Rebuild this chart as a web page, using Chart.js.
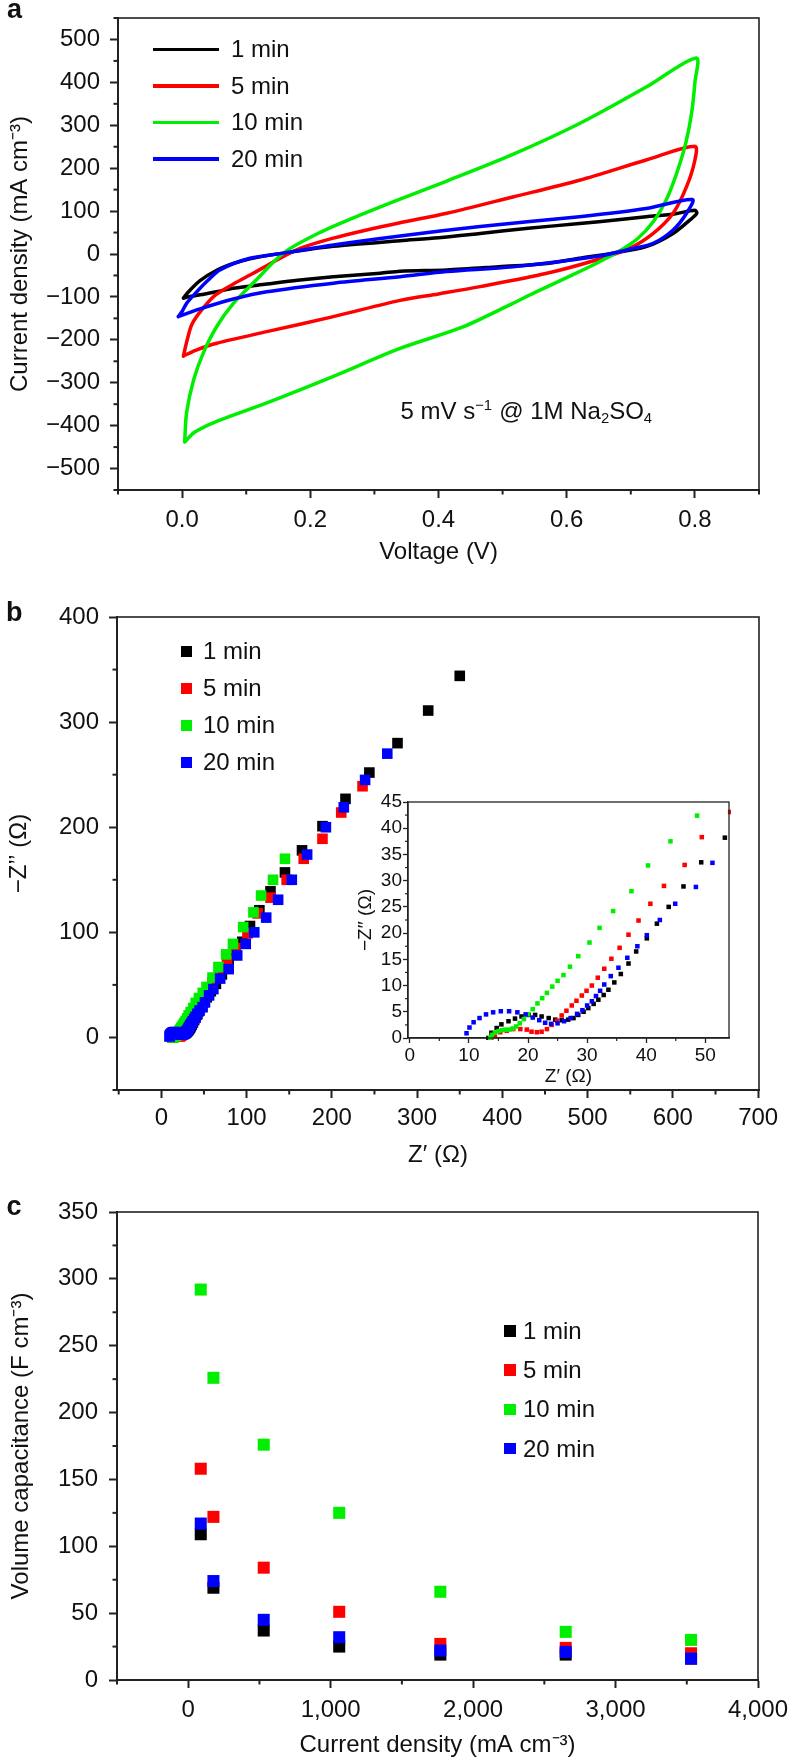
<!DOCTYPE html>
<html>
<head>
<meta charset="utf-8">
<title>CV, EIS and capacitance</title>
<script src="https://cdn.jsdelivr.net/npm/chart.js@4.4.1/dist/chart.umd.min.js"></script>
<style>
  html, body { margin:0; padding:0; background:#ffffff; }
  body { position:relative; width:788px; height:1761px; overflow:hidden;
         font-family:'Liberation Sans', Arial, Helvetica, sans-serif; color:#111; }
  .pane { position:absolute; }
  .pane canvas { display:block; }
  .t { position:absolute; line-height:0; white-space:nowrap; font-size:24px; }
  .letter { font-weight:bold; font-size:27px; }
  .sup, .sub { font-size:0.62em; position:relative; }
  .sup { top:-0.6em; }
  .sub { top:0.28em; }
  .sw { position:absolute; }
</style>
</head>
<body>
<div class="pane" style="left:0;top:0"><canvas id="chartA" width="788" height="580"></canvas></div>
<div class="pane" style="left:0;top:580px"><canvas id="chartB" width="788" height="600"></canvas></div>
<div class="pane" style="left:330px;top:790px"><canvas id="chartInset" width="420" height="300"></canvas></div>
<div class="pane" style="left:0;top:1180px"><canvas id="chartC" width="788" height="581"></canvas></div>
<div id="overlay"></div>
<script>
// ---------------- DATA ----------------
const seriesNames = ['1 min', '5 min', '10 min', '20 min'];

// Panel a: cyclic voltammetry loops (voltage V, current density mA cm-3)
const cvV_1min = [0.002,0.010,0.028,0.054,0.080,0.106,0.158,0.236,0.340,0.400,0.465,0.540,0.620,0.680,0.724,0.770,0.800,0.803,0.792,0.766,0.724,0.672,0.620,0.569,0.490,0.413,0.340,0.309,0.236,0.180,0.132,0.080,0.054,0.028,0.010,0.002];
const cvI_1min = [-103,-88,-62,-38,-22,-11,2,18,31,38,48,60,71,80,87,94,102,95,79,48,17,2,-10,-22,-30,-37,-40,-45,-53,-61,-70,-80,-88,-95,-100,-103];
const cvV_5min = [0.002,0.008,0.015,0.028,0.050,0.080,0.111,0.148,0.184,0.236,0.288,0.340,0.413,0.516,0.620,0.724,0.800,0.800,0.787,0.766,0.735,0.698,0.646,0.569,0.465,0.400,0.340,0.236,0.132,0.054,0.020,0.002];
const cvI_5min = [-238,-200,-165,-135,-98,-70,-45,-14,13,37,56,73,95,133,172,219,251,219,157,95,48,13,-14,-45,-76,-93,-108,-146,-181,-208,-225,-238];
const cvV_10min = [0.004,0.007,0.018,0.033,0.054,0.080,0.116,0.158,0.215,0.288,0.340,0.413,0.516,0.620,0.724,0.802,0.800,0.795,0.786,0.772,0.755,0.735,0.710,0.680,0.646,0.600,0.550,0.516,0.438,0.340,0.236,0.132,0.054,0.020,0.004];
const cvI_10min = [-438,-370,-293,-231,-169,-115,-60,2,50,97,128,170,232,304,389,457,400,330,260,190,125,75,35,5,-22,-55,-90,-115,-170,-220,-285,-347,-390,-415,-438];
const cvV_20min = [-0.006,0.000,0.007,0.023,0.040,0.059,0.106,0.158,0.236,0.340,0.465,0.620,0.724,0.796,0.787,0.766,0.735,0.698,0.646,0.516,0.413,0.340,0.236,0.132,0.080,0.028,-0.006];
const cvI_20min = [-146,-134,-115,-88,-62,-37,-10,2,21,42,64,87,106,127,95,56,25,11,-6,-30,-41,-53,-68,-88,-105,-128,-146];

const cvVoltTicks = [0, 0.2, 0.4, 0.6, 0.8];
const cvVoltTickLabels = ['0.0', '0.2', '0.4', '0.6', '0.8'];
const cvVoltMinor = [-0.1, 0.1, 0.3, 0.5, 0.7, 0.9];
const cvCurrTicks = [-500, -400, -300, -200, -100, 0, 100, 200, 300, 400, 500];
const cvCurrTickLabels = ['\u2212500', '\u2212400', '\u2212300', '\u2212200', '\u2212100', '0', '100', '200', '300', '400', '500'];
const cvCurrMinor = [-550, -450, -350, -250, -150, -50, 50, 150, 250, 350, 450, 550];

// Panel b: Nyquist plots (Z' ohm, -Z'' ohm)
const eisRe_1min = [13.3,13.8,14.7,15.5,16.7,17.8,18.9,20.1,21.2,22.3,23.5,24.6,25.7,26.8,27.7,28.5,29.4,30.2,31.1,31.9,32.8,33.6,34.6,35.7,37.0,38.3,40.1,41.8,43.8,46.3,49.3,53.3,58,64,71,79,87,95,104,115,128,145,165,189,216,244,277,313,350];
const eisIm_1min = [0.0,1.0,1.9,2.6,3.2,3.7,4.1,4.4,4.4,4.1,3.8,3.5,3.4,3.5,3.8,4.4,5.0,5.7,6.5,7.3,8.2,9.2,10.6,12.2,14.2,16.5,19.0,21.8,25.0,28.9,33.5,38.2,44,51,60,70,80,91,106,121,139,157,178,201,227,252,280,311,344];
const eisRe_5min = [13.8,14.4,15.3,16.4,17.5,18.7,19.8,20.6,21.5,22.3,23.2,24.0,24.9,25.7,26.5,27.4,28.2,29.1,29.9,30.8,31.8,32.9,34.1,35.5,37.0,38.7,40.7,43.0,46.5,49.4,54.2,60,68,77,87,101,113,128,147,167,189,211,236];
const eisIm_5min = [0.0,0.6,1.1,1.4,1.7,1.7,1.6,1.2,1.1,1.2,1.7,2.5,3.3,4.3,5.2,6.2,7.1,8.1,9.0,10.0,11.5,13.2,15.1,17.2,19.7,22.4,25.6,29.0,33.0,38.3,43.1,52,62,73,85,99,118,133,150,170,189,214,239];
const eisRe_10min = [13.6,13.9,14.4,15.0,15.6,16.2,16.8,17.4,18.0,18.6,19.3,20.0,20.8,21.6,22.4,23.2,24.1,25.0,26.0,27.1,28.5,30.4,32.1,34.4,37.5,40.3,44.1,48.6,53,60,67,76,84,96,108,117,131,145];
const eisIm_10min = [0.0,0.6,1.0,1.3,1.5,1.6,1.6,1.8,2.2,2.8,3.6,4.5,5.5,6.6,7.6,8.6,9.8,10.9,12.0,13.6,15.6,18.2,21.0,24.2,28.0,32.9,37.5,42.4,48,57,67,79,89,105,119,135,150,170];
const eisRe_20min = [9.6,10.1,10.8,11.8,12.9,14.1,15.4,16.8,18.2,19.6,20.8,21.9,22.9,23.9,25.0,26.1,27.2,28.3,29.2,30.0,30.8,31.5,32.2,32.9,34.0,35.3,36.8,38.5,40.1,42.3,44.9,48.4,51.2,56,61,69,79,89,99,109,123,137,153,171,193,214,239,265];
const eisIm_20min = [0.9,2.0,3.0,3.8,4.5,4.9,5.1,5.1,4.9,4.5,3.9,3.4,2.9,2.7,2.8,3.2,3.8,4.6,5.3,6.2,7.0,8.0,9.0,10.2,11.8,13.4,15.3,17.5,19.6,22.5,25.6,28.8,33.4,40,46,56,65,78,89,100,114,131,150,174,200,219,245,270];

const eisXTicks = [0, 100, 200, 300, 400, 500, 600, 700];
const eisXTickLabels = ['0', '100', '200', '300', '400', '500', '600', '700'];
const eisXMinor = [-50, 50, 150, 250, 350, 450, 550, 650];
const eisYTicks = [0, 100, 200, 300, 400];
const eisYTickLabels = ['0', '100', '200', '300', '400'];
const eisYMinor = [-50, 50, 150, 250, 350];
const insetXTicks = [0, 10, 20, 30, 40, 50];
const insetXTickLabels = ['0', '10', '20', '30', '40', '50'];
const insetXMinor = [5, 15, 25, 35, 45];
const insetYTicks = [0, 5, 10, 15, 20, 25, 30, 35, 40, 45];
const insetYTickLabels = ['0', '5', '10', '15', '20', '25', '30', '35', '40', '45'];
const insetYMinor = [2.5, 7.5, 12.5, 17.5, 22.5, 27.5, 32.5, 37.5, 42.5];

// Panel c: volume capacitance vs current density
const capCurrent = [88, 177, 530, 1060, 1770, 2650, 3530];
const cap_1min = [109, 69, 37, 25, 19, 19, 16];
const cap_5min = [158, 122, 84, 51, 27, 24, 20];
const cap_10min = [292, 226, 176, 125, 66, 36, 30];
const cap_20min = [117, 74, 45, 32, 22, 21, 16];

const capXTicks = [0, 1000, 2000, 3000, 4000];
const capXTickLabels = ['0', '1,000', '2,000', '3,000', '4,000'];
const capXMinor = [-500, 500, 1500, 2500, 3500];
const capYTicks = [0, 50, 100, 150, 200, 250, 300, 350];
const capYTickLabels = ['0', '50', '100', '150', '200', '250', '300', '350'];
const capYMinor = [25, 75, 125, 175, 225, 275, 325];

// ---------------- STYLE ----------------
const FONT = "'Liberation Sans', Arial, Helvetica, sans-serif";
const seriesColors = ['#000000', '#ff0000', '#00ee00', '#0000ff'];
const AXIS = '#222222';
const TEXT = '#111111';
Chart.defaults.font.family = FONT;
Chart.defaults.color = TEXT;

function pts(xs, ys) { return xs.map((x, i) => ({ x: x, y: ys[i] })); }

function scaleCfg(o) {
  const vertical = o.pos === 'left';
  return {
    type: 'linear', position: o.pos, min: o.min, max: o.max,
    afterBuildTicks: s => { s.ticks = o.major.map(v => ({ value: v })); },
    afterFit: s => {
      if (vertical) s.width = o.size; else s.height = o.size;
      s.paddingTop = 0; s.paddingBottom = 0; s.paddingLeft = 0; s.paddingRight = 0;
    },
    ticks: {
      autoSkip: false, maxRotation: 0, minRotation: 0, padding: o.tickPad, color: TEXT,
      font: { size: o.fs, family: FONT }, callback: (v, i) => o.labels[i]
    },
    grid: { drawOnChartArea: false, drawTicks: true, tickLength: o.tl, tickWidth: o.tw, tickColor: AXIS },
    border: { display: true, color: AXIS, width: o.bw },
    title: {
      display: true, text: o.title, color: TEXT, font: { size: o.fs, family: FONT },
      padding: vertical ? { top: o.titlePad, bottom: 0 } : { top: 0, bottom: o.titlePad }
    }
  };
}

function decor(minor, frameW, tickW, len) {
  return {
    id: 'decor',
    afterDraw(chart) {
      const ctx = chart.ctx, a = chart.chartArea;
      ctx.save();
      ctx.strokeStyle = AXIS;
      ctx.lineWidth = tickW;
      minor.forEach(m => {
        const s = chart.scales[m.axis];
        m.values.forEach(v => {
          const p = s.getPixelForValue(v);
          ctx.beginPath();
          if (m.axis === 'x') { ctx.moveTo(p, a.bottom); ctx.lineTo(p, a.bottom + len); }
          else { ctx.moveTo(a.left, p); ctx.lineTo(a.left - len, p); }
          ctx.stroke();
        });
      });
      ctx.lineWidth = frameW;
      ctx.strokeRect(a.left, a.top, a.right - a.left, a.bottom - a.top);
      ctx.restore();
    }
  };
}

function baseOptions(padding, xCfg, yCfg) {
  return {
    responsive: false, animation: false, devicePixelRatio: 1, events: [],
    layout: { padding: padding },
    plugins: { legend: { display: false }, tooltip: { enabled: false } },
    scales: { x: scaleCfg(xCfg), y: scaleCfg(yCfg) }
  };
}

// draw order: last series on top
const drawOrder = [3, 2, 1, 0];

// ---------------- PANEL A ----------------
const cvSeries = [[cvV_1min, cvI_1min], [cvV_5min, cvI_5min], [cvV_10min, cvI_10min], [cvV_20min, cvI_20min]];
new Chart(document.getElementById('chartA'), {
  type: 'scatter',
  data: {
    datasets: drawOrder.map(i => ({
      label: seriesNames[i], data: pts(cvSeries[i][0], cvSeries[i][1]),
      showLine: true, borderColor: seriesColors[i], borderWidth: 3.5, pointRadius: 0,
      tension: 0.3, borderJoinStyle: 'round', borderCapStyle: 'round', fill: false
    }))
  },
  options: baseOptions({ top: 18, right: 29, left: 0, bottom: 0 },
    { pos: 'bottom', min: -0.1, max: 0.9, major: cvVoltTicks, labels: cvVoltTickLabels, size: 90,
      tickPad: 8, fs: 24, tl: 8, tw: 2, bw: 2, title: 'Voltage (V)', titlePad: 13 },
    { pos: 'left', min: -550, max: 550, major: cvCurrTicks, labels: cvCurrTickLabels, size: 118,
      tickPad: 10, fs: 24, tl: 8, tw: 2, bw: 2, title: 'Current density (mA cm\u207B\u00B3)', titlePad: 6 }),
  plugins: [decor([{ axis: 'x', values: cvVoltMinor }, { axis: 'y', values: cvCurrMinor }], 1.6, 2, 4.5)]
});

// ---------------- PANEL B ----------------
const eisSeries = [[eisRe_1min, eisIm_1min], [eisRe_5min, eisIm_5min], [eisRe_10min, eisIm_10min], [eisRe_20min, eisIm_20min]];
function eisDatasets(radius) {
  return drawOrder.map(i => ({
    label: seriesNames[i], data: pts(eisSeries[i][0], eisSeries[i][1]),
    showLine: false, pointStyle: 'rect', pointRadius: radius,
    pointBackgroundColor: seriesColors[i], pointBorderColor: seriesColors[i], pointBorderWidth: 0,
    clip: 2
  }));
}
new Chart(document.getElementById('chartB'), {
  type: 'scatter',
  data: { datasets: eisDatasets(7.5) },
  options: baseOptions({ top: 37, right: 29, left: 0, bottom: 0 },
    { pos: 'bottom', min: -52, max: 701, major: eisXTicks, labels: eisXTickLabels, size: 90,
      tickPad: 6, fs: 24, tl: 8, tw: 2, bw: 2, title: 'Z\u2032 (\u03A9)', titlePad: 10 },
    { pos: 'left', min: -50, max: 400, major: eisYTicks, labels: eisYTickLabels, size: 117,
      tickPad: 10, fs: 24, tl: 8, tw: 2, bw: 2, title: '\u2212Z\u2019\u2019 (\u03A9)', titlePad: 5 }),
  plugins: [decor([{ axis: 'x', values: eisXMinor }, { axis: 'y', values: eisYMinor }], 1.6, 2, 4.5)]
});

new Chart(document.getElementById('chartInset'), {
  type: 'scatter',
  data: { datasets: eisDatasets(3.2) },
  options: baseOptions({ top: 12, right: 21, left: 0, bottom: 0 },
    { pos: 'bottom', min: -0.3, max: 54, major: insetXTicks, labels: insetXTickLabels, size: 52,
      tickPad: 1, fs: 19, tl: 5, tw: 1.3, bw: 1.4, title: 'Z\u2032 (\u03A9)', titlePad: 2 },
    { pos: 'left', min: 0, max: 45, major: insetYTicks, labels: insetYTickLabels, size: 78,
      tickPad: 1, fs: 19, tl: 5, tw: 1.3, bw: 1.4, title: '\u2212Z\u2032\u2032 (\u03A9)', titlePad: 24 }),
  plugins: [decor([{ axis: 'x', values: insetXMinor }, { axis: 'y', values: insetYMinor }], 1.3, 1.2, 3)]
});

// ---------------- PANEL C ----------------
const capSeries = [cap_1min, cap_5min, cap_10min, cap_20min];
new Chart(document.getElementById('chartC'), {
  type: 'scatter',
  data: {
    datasets: drawOrder.map(i => ({
      label: seriesNames[i], data: pts(capCurrent, capSeries[i]),
      showLine: false, pointStyle: 'rect', pointRadius: 8.5,
      pointBackgroundColor: seriesColors[i], pointBorderColor: seriesColors[i], pointBorderWidth: 0
    }))
  },
  options: baseOptions({ top: 32, right: 30, left: 0, bottom: 0 },
    { pos: 'bottom', min: -500, max: 4000, major: capXTicks, labels: capXTickLabels, size: 81,
      tickPad: 8, fs: 24, tl: 8, tw: 2, bw: 2, title: 'Current density (mA cm\u207B\u00B3)', titlePad: 1 },
    { pos: 'left', min: 0, max: 350, major: capYTicks, labels: capYTickLabels, size: 117,
      tickPad: 11, fs: 24, tl: 8, tw: 2, bw: 2, title: 'Volume capacitance (F cm\u207B\u00B3)', titlePad: 7 }),
  plugins: [decor([{ axis: 'x', values: capXMinor }, { axis: 'y', values: capYMinor }], 1.6, 2, 4.5)]
});

// ---------------- OVERLAY TEXT & LEGENDS ----------------
const overlay = document.getElementById('overlay');
function addText(html, left, midY, cls) {
  const d = document.createElement('div');
  d.className = 't' + (cls ? ' ' + cls : '');
  d.style.left = left + 'px'; d.style.top = midY + 'px';
  d.innerHTML = html; overlay.appendChild(d); return d;
}
function addBox(left, top, w, h, color) {
  const d = document.createElement('div');
  d.className = 'sw';
  d.style.left = left + 'px'; d.style.top = top + 'px';
  d.style.width = w + 'px'; d.style.height = h + 'px'; d.style.background = color;
  overlay.appendChild(d); return d;
}

addText('a', 7, 8.6, 'letter');
addText('b', 6, 612.3, 'letter');
addText('c', 6.5, 1205.6, 'letter');

seriesNames.forEach((name, i) => {
  const ya = 49.4 + i * 36.5;
  addBox(153, ya - 1.75, 66, 3.5, seriesColors[i]);
  addText(name, 231, ya);
  const yb = 651 + i * 37;
  addBox(181.2, yb - 5.5, 11, 11, seriesColors[i]);
  addText(name, 203, yb);
  const yc = 1331 + i * 39.2;
  addBox(504.2, yc - 5.8, 11.6, 11.6, seriesColors[i]);
  addText(name, 523, yc);
});

addText('5 mV s<span class="sup">\u22121</span><span style="margin-left:7px">@</span> 1M Na<span class="sub">2</span>SO<span class="sub">4</span>', 400.5, 410.5);
</script>
</body>
</html>
